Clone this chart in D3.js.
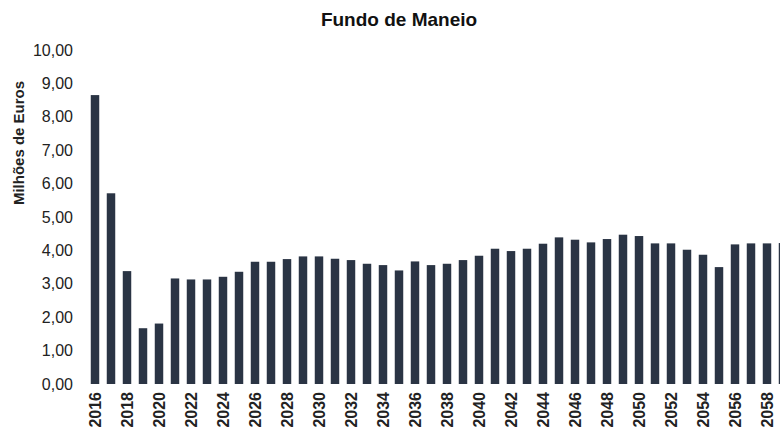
<!DOCTYPE html>
<html>
<head>
<meta charset="utf-8">
<script src="https://cdn.jsdelivr.net/npm/d3@7"></script>
<style>
  html, body { margin: 0; padding: 0; background: #fff; }
  svg { display: block; font-family: "Liberation Sans", Arial, sans-serif; }
</style>
</head>
<body>
<svg id="chart" width="780" height="432"></svg>
<script>
const title = "Fundo de Maneio";
const yTitle = "Milhões de Euros";
const years = [2016,2017,2018,2019,2020,2021,2022,2023,2024,2025,2026,2027,2028,2029,2030,2031,2032,2033,2034,2035,2036,2037,2038,2039,2040,2041,2042,2043,2044,2045,2046,2047,2048,2049,2050,2051,2052,2053,2054,2055,2056,2057,2058,2059];
const values = [8.65,5.71,3.38,1.67,1.81,3.16,3.13,3.13,3.21,3.36,3.66,3.66,3.74,3.82,3.82,3.75,3.71,3.60,3.56,3.40,3.67,3.56,3.60,3.71,3.84,4.05,3.98,4.05,4.20,4.39,4.32,4.24,4.34,4.47,4.43,4.21,4.21,4.02,3.87,3.50,4.18,4.21,4.21,4.22];
const yTicks = [0,1,2,3,4,5,6,7,8,9,10];
const xTickLabels = years.filter(y => y % 2 === 0 && y <= 2058);

const svg = d3.select("#chart");
const x = d3.scaleBand().domain(years).range([87, 87 + years.length * 16]).paddingInner(0.47).paddingOuter(0.235);
const y = d3.scaleLinear().domain([0, 10]).range([384, 50]);
const color = "#2a3444";

svg.append("g").selectAll("rect").data(years).join("rect")
  .attr("x", d => x(d))
  .attr("width", x.bandwidth())
  .attr("y", (d, i) => y(values[i]))
  .attr("height", (d, i) => y(0) - y(values[i]))
  .attr("fill", color);

const fmt = v => d3.format(".2f")(v).replace(".", ",");
const yAxis = svg.append("g").attr("transform", "translate(78,0)")
  .call(d3.axisLeft(y).tickValues(yTicks).tickFormat(fmt).tickSize(0).tickPadding(5));
yAxis.select(".domain").remove();
yAxis.selectAll("text").attr("font-size", 16).attr("fill", "#222").attr("font-family", "Liberation Sans, Arial, sans-serif");

const xAxis = svg.append("g").attr("transform", "translate(0,386)")
  .call(d3.axisBottom(x).tickValues(xTickLabels).tickSize(0).tickPadding(6));
xAxis.select(".domain").remove();
xAxis.selectAll("text")
  .attr("transform", "rotate(-90)")
  .attr("text-anchor", "end")
  .attr("x", -6).attr("y", 0).attr("dy", "0.35em")
  .attr("font-size", 16).attr("font-weight", "bold").attr("fill", "#222")
  .attr("font-family", "Liberation Sans, Arial, sans-serif");

svg.append("text").attr("x", 399).attr("y", 26).attr("text-anchor", "middle")
  .attr("font-size", 19).attr("font-weight", "bold").attr("fill", "#111").text(title);

svg.append("text").attr("transform", "translate(24,143) rotate(-90)").attr("text-anchor", "middle")
  .attr("font-size", 15).attr("font-weight", "bold").attr("fill", "#222").text(yTitle);
</script>
</body>
</html>
